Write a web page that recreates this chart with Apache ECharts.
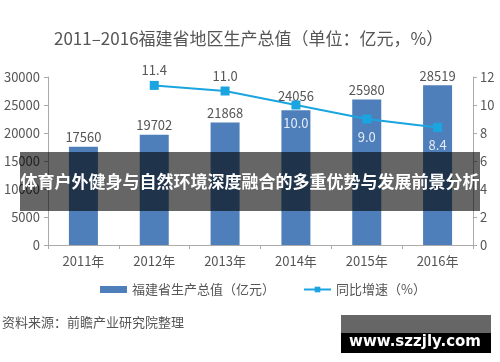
<!DOCTYPE html>
<html><head><meta charset="utf-8">
<script src="https://cdn.jsdelivr.net/npm/echarts@6/dist/echarts.min.js"></script>
<style>html,body{margin:0;padding:0;background:#fff}#c{width:500px;height:362px}</style>
</head><body><div id="c"></div>
<script>
var categories = ['2011年','2012年','2013年','2014年','2015年','2016年'];
var gdp = [17560, 19702, 21868, 24056, 25980, 28519];
var growth = [null, 11.4, 11.0, 10.0, 9.0, 8.4];
var leftTicks = [0, 5000, 10000, 15000, 20000, 25000, 30000];
var rightTicks = [0, 2, 4, 6, 8, 10, 12];

var F = '"Noto Sans CJK SC","Noto Sans",sans-serif';
var chart = echarts.init(document.getElementById('c'));
chart.setOption({
  animation: false,
  textStyle: {fontFamily: F},
  title: {text: '2011–2016福建省地区生产总值（单位：亿元，%）', left: 49, top: 25,
    textStyle: {fontSize: 17, fontWeight: 'normal', color: '#555', fontFamily: F}},
  grid: {left: 48, right: 27, top: 77, bottom: 117},
  legend: {left: 100, top: 283, padding: 0, itemGap: 28, itemWidth: 27, itemHeight: 7,
    textStyle: {fontSize: 13, color: '#555', fontFamily: F},
    data: [{name: '福建省生产总值（亿元）', icon: 'rect'}, {name: '同比增速（%）'}]},
  xAxis: {type: 'category', data: categories, boundaryGap: true,
    axisLine: {lineStyle: {color: '#aaa'}},
    axisTick: {show: true, length: 4, lineStyle: {color: '#aaa'}},
    axisLabel: {fontSize: 13, color: '#555', margin: 10, fontFamily: F}},
  yAxis: [
    {type: 'value', min: leftTicks[0], max: leftTicks[leftTicks.length-1], interval: 5000,
      splitLine: {show: false},
      axisLine: {show: true, lineStyle: {color: '#aaa'}},
      axisTick: {show: true, length: 4, lineStyle: {color: '#aaa'}},
      axisLabel: {fontSize: 13, color: '#555', margin: 8, fontFamily: F,
        formatter: function (v) { return String(v); }}},
    {type: 'value', min: rightTicks[0], max: rightTicks[rightTicks.length-1], interval: 2,
      splitLine: {show: false},
      axisLine: {show: true, lineStyle: {color: '#aaa'}},
      axisTick: {show: true, length: 4, lineStyle: {color: '#aaa'}},
      axisLabel: {fontSize: 13, color: '#555', margin: 7, fontFamily: F}}
  ],
  series: [
    {name: '福建省生产总值（亿元）', type: 'bar', barWidth: 29,
      data: gdp.map(function (v, i) { return i === 3 ? {value: v, label: {distance: 8}} : v; }),
      itemStyle: {color: '#4f7fba'}, z: 2,
      label: {show: true, position: 'top', distance: 3, fontSize: 13, color: '#555', fontFamily: F}},
    {name: '同比增速（%）', type: 'line', yAxisIndex: 1, z: 3,
      data: growth.map(function (v, i) {
        return {value: v, label: i < 3 ? {position: 'top', distance: 4, color: '#555'}
                                        : {position: 'bottom', distance: 7, color: '#e3ebf6'}};
      }),
      symbol: 'rect', symbolSize: 9, connectNulls: false,
      lineStyle: {color: '#1aa5e0', width: 2}, itemStyle: {color: '#1aa5e0'},
      label: {show: true, fontSize: 13, fontFamily: F, formatter: function (p) { return p.value.toFixed(1); }}}
  ],
  graphic: [
    {type: 'text', left: 2, top: 316, style: {text: '资料来源：前瞻产业研究院整理', font: '13px ' + F, fill: '#555'}},
    {type: 'rect', shape: {x: 20, y: 152, width: 460, height: 59}, style: {fill: 'rgba(0,0,0,0.6)'}, z: 100},
    {type: 'text', x: 250, y: 182, z: 101, style: {text: '体育户外健身与自然环境深度融合的多重优势与发展前景分析',
      font: 'bold 17px ' + F, fill: '#fff', align: 'center', verticalAlign: 'middle'}},
    {type: 'rect', shape: {x: 341, y: 315, width: 150, height: 18}, style: {fill: '#666'}, z: 100},
    {type: 'rect', shape: {x: 341, y: 333, width: 150, height: 20}, style: {fill: '#000'}, z: 100},
    {type: 'text', x: 415, y: 342, z: 101, style: {text: 'www.szzjly.com',
      font: 'bold 15px "DejaVu Sans",sans-serif', fill: '#fff', align: 'center', verticalAlign: 'middle'}}
  ]
});
</script></body></html>
